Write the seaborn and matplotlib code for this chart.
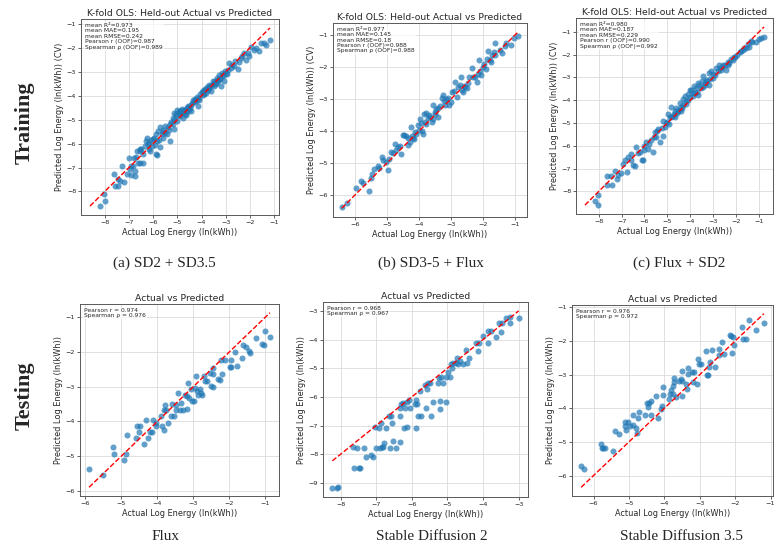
import matplotlib
matplotlib.use("Agg")
import matplotlib.pyplot as plt
import numpy as np
import seaborn as sns

# ---- training panels (K-fold OLS, out-of-fold) ----
sd2_sd35_actual = [-8.18, -8.0, -8.03, -7.62, -7.59, -7.45, -7.45, -7.22, -7.27, -7.08, -6.97, -6.84, -6.8, -7.0,
                   -6.63, -6.54, -6.42, -6.9, -6.74, -6.77, -6.66, -6.56, -6.49, -6.24, -6.29, -6.16, -6.08, -6.33,
                   -6.19, -6.11, -5.9, -5.94, -5.83, -5.71, -5.83, -5.87, -5.81, -5.71, -5.6, -5.53, -5.6, -5.42,
                   -5.32, -5.12, -5.26, -5.19, -5.12, -5.01, -4.91, -5.05, -5.12, -4.84, -4.71, -4.78, -4.64, -4.5,
                   -4.43, -4.36, -4.23, -4.16, -4.09, -3.95, -3.88, -3.82, -3.75, -3.68, -3.61, -3.54, -3.47, -3.4,
                   -3.34, -3.27, -3.13, -3.2, -3.06, -2.99, -2.86, -2.79, -2.65, -2.51, -2.38, -2.31, -2.17, -2.03,
                   -1.76, -1.83, -1.62, -1.42, -1.35, -1.17,
                   -5.05, -4.95, -4.88, -4.8, -4.75, -4.68, -4.62, -4.55, -4.48, -4.4, -4.33, -4.28, -4.2, -4.12,
                   -4.05, -3.98, -3.9, -3.85, -3.78, -3.72, -3.65, -3.58, -3.5, -3.42, -3.35, -3.3, -3.22, -3.15,
                   -3.1, -3.02, -2.95, -2.75, -2.6, -2.45, -2.25, -2.1, -1.95, -1.55, -5.4, -5.35, -5.5, -5.65,
                   -5.75, -5.95, -6.05, -6.4, -6.55, -6.7, -6.9, -7.35, -5.2, -5.0, -4.9, -4.7, -4.6, -4.45,
                   -4.85, -4.58, -4.25, -3.92, -3.7, -3.45, -3.25, -2.9, -5.3, -5.6, -6.2, -6.0]
sd2_sd35_pred = [-8.61, -8.4, -8.12, -7.25, -7.78, -7.78, -7.46, -7.61, -6.94, -7.25, -7.08, -6.94, -6.62, -6.62,
                 -6.8, -6.83, -6.83, -7.3, -7.15, -7.36, -6.31, -6.24, -6.22, -5.76, -5.9, -5.97, -5.86, -6.1,
                 -6.22, -6.31, -6.42, -6.04, -6.46, -6.14, -5.88, -5.6, -5.46, -5.32, -5.42, -5.28, -5.78, -5.6,
                 -5.88, -5.39, -5.11, -4.93, -4.72, -4.58, -4.65, -4.86, -5.0, -4.72, -4.58, -4.93, -4.79, -4.58,
                 -4.38, -4.17, -4.24, -4.44, -4.1, -3.96, -3.75, -3.89, -3.68, -3.54, -3.82, -3.4, -3.61, -3.47,
                 -3.33, -3.13, -3.19, -3.61, -3.4, -3.06, -2.64, -2.85, -2.78, -2.89, -2.43, -2.36, -2.5, -2.36,
                 -2.01, -2.08, -2.15, -1.81, -1.88, -1.67,
                 -4.75, -4.7, -4.62, -4.55, -4.68, -4.6, -4.5, -4.42, -4.52, -4.3, -4.25, -4.12, -4.05, -4.18,
                 -3.92, -3.85, -3.92, -3.7, -3.62, -3.78, -3.6, -3.55, -3.45, -3.5, -3.25, -3.4, -3.28, -3.05,
                 -3.15, -2.95, -3.1, -2.7, -2.55, -2.58, -2.2, -2.22, -1.95, -1.78, -5.3, -5.45, -5.55, -5.6,
                 -5.85, -5.75, -6.1, -6.45, -6.3, -6.55, -6.95, -7.55, -5.2, -5.05, -4.85, -4.78, -4.7, -4.62,
                 -4.66, -4.48, -4.2, -3.8, -3.66, -3.38, -3.3, -2.92, -5.18, -5.52, -6.0, -5.82]

sd35_flux_actual = [-6.41, -6.26, -5.97, -5.81, -5.76, -5.57, -5.5, -5.39, -5.29, -5.25, -5.16, -5.11, -5.02, -4.97,
                    -4.92, -4.87, -4.81, -4.76, -4.66, -4.55, -4.5, -4.45, -4.39, -4.34, -4.29, -4.24, -4.18, -4.13,
                    -4.08, -4.03, -3.97, -3.92, -3.87, -3.85, -3.79, -3.76, -3.71, -3.64, -3.55, -3.5, -3.48, -3.45,
                    -3.39, -3.29, -3.24, -3.22, -3.18, -3.08, -3.05, -2.97, -2.87, -2.82, -2.71, -2.69, -2.63, -2.59,
                    -2.5, -2.42, -2.34, -2.29, -2.19, -2.13, -2.08, -2.05, -1.98, -1.87, -1.82, -1.77, -1.71, -1.66,
                    -1.61, -1.45, -1.4, -1.26, -1.12, -1.03, -0.89,
                    -5.45, -4.7, -4.6, -4.35, -4.0, -3.9, -3.68, -3.6, -3.4, -3.35, -3.15, -3.0, -2.9, -2.78,
                    -2.55, -2.45, -2.25, -2.15, -1.95, -1.9, -1.6, -1.3, -4.2, -4.15, -3.82, -2.65, -3.55, -1.75]
sd35_flux_pred = [-6.37, -6.25, -5.78, -5.55, -5.63, -5.88, -5.46, -5.18, -5.08, -5.15, -4.81, -4.9, -4.97, -5.2,
                  -4.87, -4.66, -4.69, -4.39, -4.5, -4.71, -4.12, -4.12, -4.14, -4.44, -4.34, -3.87, -4.22, -4.03,
                  -4.08, -3.82, -3.61, -3.74, -4.08, -3.45, -3.42, -3.79, -3.6, -3.55, -3.18, -3.45, -3.4, -3.32,
                  -3.29, -2.97, -2.87, -3.05, -3.18, -2.95, -3.18, -2.76, -2.45, -2.92, -2.55, -2.31, -2.76, -2.58,
                  -2.66, -2.29, -2.03, -2.29, -2.45, -1.77, -2.12, -2.24, -1.98, -1.75, -1.48, -1.77, -1.63, -1.53,
                  -1.24, -1.45, -1.56, -1.24, -1.29, -1.08, -1.01,
                  -5.35, -4.6, -4.45, -4.2, -3.95, -4.0, -3.48, -3.7, -3.55, -3.2, -3.0, -3.1, -2.75, -2.62,
                  -2.62, -2.5, -2.3, -2.2, -1.9, -2.05, -1.62, -1.32, -4.15, -4.25, -3.72, -2.7, -3.62, -1.85]

flux_sd2_actual = [-8.04, -8.16, -8.04, -7.62, -7.62, -7.48, -7.44, -7.29, -7.15, -7.22, -7.04, -6.93, -6.86, -6.78,
                   -6.71, -6.57, -6.49, -6.42, -6.35, -6.21, -6.13, -6.06, -6.03, -5.92, -5.84, -5.7, -5.63, -5.55,
                   -5.48, -5.41, -5.34, -5.19, -5.19, -5.12, -5.05, -4.98, -4.9, -4.83, -4.76, -4.69, -4.61, -4.54,
                   -4.47, -4.4, -4.32, -4.25, -4.18, -4.11, -4.03, -3.96, -3.89, -3.82, -3.75, -3.67, -3.6, -3.48,
                   -3.43, -3.38, -3.31, -3.17, -3.09, -3.02, -2.88, -2.8, -2.73, -2.66, -2.56, -2.44, -2.37, -2.3,
                   -2.15, -2.04, -1.94, -1.79, -1.69, -1.57, -1.43, -1.29, -1.14, -1.02, -0.92, -0.78,
                   -5.25, -5.0, -4.85, -4.72, -4.6, -4.5, -4.42, -4.3, -4.2, -4.1, -4.0, -3.9, -3.8, -3.7,
                   -3.55, -3.45, -3.35, -3.25, -3.12, -3.0, -2.92, -2.7, -2.6, -2.5, -2.35, -2.22, -2.1, -1.85,
                   -1.65, -1.5, -1.35, -5.6, -5.8, -6.0, -6.3, -6.6, -5.45, -4.95, -4.65, -4.35, -3.65, -3.2]
flux_sd2_pred = [-8.6, -8.43, -8.14, -7.74, -7.32, -7.32, -7.74, -7.1, -7.28, -7.46, -7.18, -6.8, -6.63, -7.13,
                 -6.48, -6.37, -6.85, -6.87, -6.05, -6.27, -6.63, -6.63, -6.02, -5.83, -6.12, -5.76, -6.27, -5.4,
                 -5.59, -5.26, -5.83, -5.55, -4.9, -5.16, -4.98, -4.61, -4.75, -4.29, -4.68, -4.46, -4.35, -4.46,
                 -4.1, -4.29, -3.96, -3.81, -4.03, -3.74, -3.57, -3.53, -3.67, -3.38, -3.45, -3.24, -3.31, -3.16,
                 -2.95, -3.31, -3.09, -2.8, -2.73, -3.02, -2.59, -2.73, -2.44, -2.66, -2.44, -2.66, -2.3, -2.37,
                 -2.23, -2.08, -2.01, -1.84, -1.79, -1.72, -1.65, -1.43, -1.43, -1.29, -1.26, -1.22,
                 -5.2, -4.95, -4.75, -4.62, -4.55, -4.42, -4.45, -4.2, -4.15, -4.0, -3.85, -3.8, -3.68, -3.62,
                 -3.45, -3.4, -3.25, -3.15, -3.05, -2.85, -2.9, -2.6, -2.55, -2.45, -2.45, -2.2, -2.1, -1.9,
                 -1.72, -1.55, -1.4, -5.6, -5.9, -6.2, -6.3, -6.6, -5.35, -5.05, -4.72, -4.35, -3.75, -3.35]

# ---- testing panels ----
flux_actual = [-5.9, -5.51, -5.23, -5.21, -4.94, -4.88, -4.84, -4.6, -4.58, -4.5, -4.49, -4.38, -4.32, -4.26,
               -4.21, -4.14, -4.12, -4.05, -4.03, -3.89, -3.87, -3.82, -3.81, -3.8, -3.75, -3.7, -3.61, -3.58,
               -3.55, -3.49, -3.47, -3.43, -3.38, -3.33, -3.29, -3.23, -3.19, -3.17, -3.15, -3.12, -3.06, -3.03,
               -2.98, -2.96, -2.92, -2.9, -2.87, -2.82, -2.78, -2.75, -2.71, -2.67, -2.62, -2.53, -2.5, -2.45,
               -2.45, -2.44, -2.31, -2.27, -2.22, -2.19, -2.13, -1.99, -1.94, -1.94, -1.83, -1.79, -1.64, -1.62,
               -1.53, -1.44, -1.42, -1.27, -1.1, -1.0, -1.04, -0.87]
flux_pred = [-5.37, -5.54, -4.74, -4.93, -5.11, -4.93, -4.38, -4.47, -4.14, -4.3, -4.14, -4.64, -3.95, -4.48,
             -4.3, -4.3, -3.95, -4.06, -4.13, -3.86, -4.13, -4.25, -3.67, -3.53, -3.67, -4.04, -3.86, -3.5,
             -3.86, -3.52, -3.67, -3.17, -3.67, -3.46, -3.67, -3.23, -3.28, -3.63, -2.89, -3.33, -3.07, -3.4,
             -3.4, -3.04, -2.7, -3.14, -3.23, -3.06, -3.19, -3.25, -2.7, -2.84, -2.84, -2.6, -2.99, -2.63,
             -3.01, -2.46, -2.78, -2.8, -2.24, -2.63, -2.24, -2.44, -2.44, -2.22, -1.99, -2.41, -2.18, -1.8,
             -1.85, -1.97, -2.02, -1.6, -1.78, -1.41, -1.8, -1.57]

sd2_actual = [-8.23, -8.1, -8.06, -7.65, -7.63, -7.54, -7.47, -7.44, -7.33, -7.28, -7.14, -7.09, -7.02, -7.0,
              -6.92, -6.89, -6.83, -6.86, -6.81, -6.78, -6.72, -6.65, -6.6, -6.58, -6.56, -6.53, -6.45, -6.34,
              -6.32, -6.34, -6.3, -6.25, -6.23, -6.2, -6.14, -6.14, -6.08, -6.06, -5.92, -5.87, -5.87, -5.86,
              -5.83, -5.78, -5.75, -5.64, -5.59, -5.57, -5.55, -5.5, -5.45, -5.41, -5.27, -5.24, -5.22, -5.22,
              -5.17, -5.13, -5.05, -5.03, -4.98, -4.94, -4.91, -4.86, -4.84, -4.77, -4.73, -4.7, -4.66, -4.56,
              -4.47, -4.44, -4.4, -4.19, -4.14, -4.1, -4.0, -3.86, -3.86, -3.77, -3.65, -3.49, -3.56, -3.46,
              -3.35, -3.25, -3.23, -3.0]
sd2_pred = [-9.18, -9.18, -9.15, -7.74, -8.47, -7.79, -8.47, -8.49, -7.79, -8.08, -8.02, -8.08, -7.06, -7.79,
            -7.1, -7.79, -7.76, -6.92, -7.74, -7.59, -7.08, -6.68, -7.79, -6.68, -6.92, -7.53, -7.79, -6.38,
            -6.68, -7.56, -6.24, -6.21, -7.08, -6.39, -6.18, -7.06, -6.12, -6.39, -6.24, -6.12, -7.08, -6.24,
            -6.68, -5.79, -6.65, -5.59, -6.39, -5.74, -5.53, -5.53, -6.68, -6.18, -5.53, -5.35, -6.41, -6.15,
            -5.32, -5.53, -6.18, -5.32, -5.12, -5.32, -4.85, -5.0, -4.81, -4.81, -4.65, -4.85, -4.76, -4.85,
            -4.38, -4.81, -4.65, -4.12, -4.41, -4.12, -3.86, -4.12, -3.71, -3.71, -3.91, -3.74, -3.44, -3.41,
            -3.24, -3.2, -3.44, -3.24]

sd35_actual = [-6.35, -6.27, -5.78, -5.76, -5.73, -5.69, -5.46, -5.38, -5.27, -5.12, -5.12, -5.08, -5.02, -4.98,
               -4.89, -4.89, -4.8, -4.77, -4.75, -4.72, -4.56, -4.48, -4.45, -4.42, -4.39, -4.37, -4.24, -4.17,
               -4.1, -4.07, -4.05, -4.03, -3.87, -3.85, -3.82, -3.77, -3.75, -3.72, -3.72, -3.68, -3.58, -3.53,
               -3.5, -3.49, -3.49, -3.39, -3.37, -3.34, -3.34, -3.22, -3.18, -3.15, -3.08, -3.06, -3.03, -2.96,
               -2.82, -2.8, -2.77, -2.73, -2.71, -2.65, -2.56, -2.47, -2.46, -2.38, -2.31, -2.16, -2.11, -2.1,
               -2.06, -2.02, -1.8, -1.78, -1.7, -1.61, -1.42, -1.19]
sd35_pred = [-5.72, -5.82, -5.07, -5.17, -5.17, -5.17, -5.27, -4.69, -4.77, -4.42, -4.52, -4.64, -4.42, -4.52,
             -4.5, -4.2, -4.6, -4.74, -4.3, -4.12, -4.2, -3.84, -3.97, -3.84, -3.77, -4.2, -3.64, -4.3,
             -4.02, -3.92, -3.6, -3.38, -3.72, -3.57, -3.47, -3.35, -3.57, -3.21, -3.11, -3.67, -3.18, -3.13,
             -2.88, -3.18, -3.64, -3.28, -3.43, -2.81, -2.98, -2.91, -3.23, -2.91, -3.28, -2.53, -2.68, -2.68,
             -2.31, -3.0, -3.0, -2.78, -2.63, -2.28, -2.78, -2.41, -2.25, -2.03, -2.38, -1.83, -1.85, -2.35,
             -1.88, -2.11, -1.59, -1.93, -1.95, -1.38, -1.68, -1.46]

train_stats = [
    "mean R\u00b2=0.973\nmean MAE=0.195\nmean RMSE=0.242\nPearson r (OOF)=0.987\nSpearman \u03c1 (OOF)=0.989",
    "mean R\u00b2=0.977\nmean MAE=0.145\nmean RMSE=0.18\nPearson r (OOF)=0.988\nSpearman \u03c1 (OOF)=0.988",
    "mean R\u00b2=0.980\nmean MAE=0.187\nmean RMSE=0.229\nPearson r (OOF)=0.990\nSpearman \u03c1 (OOF)=0.992",
]
test_stats = [
    "Pearson r = 0.974\nSpearman \u03c1 = 0.976",
    "Pearson r = 0.968\nSpearman \u03c1 = 0.967",
    "Pearson r = 0.976\nSpearman \u03c1 = 0.972",
]
train_captions = ["(a) SD2 + SD3.5", "(b) SD3-5 + Flux", "(c) Flux + SD2"]
test_captions = ["Flux", "Stable Diffusion 2", "Stable Diffusion 3.5"]

sns.set_style("whitegrid", {"axes.edgecolor": "0.35", "grid.color": "0.86"})

W, H = 780, 550
fig = plt.figure(figsize=(7.8, 5.5), dpi=100)


def add_ax(left, top, right, bottom):
    return fig.add_axes([left / W, 1 - bottom / H, (right - left) / W, (bottom - top) / H])


def draw_panel(ax, actual, pred, title, ylabel, stats, line_both):
    actual = np.array(actual)
    pred = np.array(pred)
    sns.scatterplot(x=actual, y=pred, ax=ax, s=19, alpha=0.7, linewidth=0, color="#1f77b4")
    if line_both:
        lims = [min(actual.min(), pred.min()), max(actual.max(), pred.max())]
    else:
        lims = [actual.min(), actual.max()]
    ax.plot(lims, lims, "r--", linewidth=1.0)
    ax.set_title(title, fontsize=6.7, pad=2.5)
    ax.set_xlabel("Actual Log Energy (ln(kWh))", fontsize=5.9, labelpad=2)
    ax.set_ylabel(ylabel, fontsize=5.9, labelpad=2)
    ax.tick_params(labelsize=4.6, length=2, width=0.5, pad=1.5, left=True, bottom=True)
    for sp in ax.spines.values():
        sp.set_linewidth(0.7)
    ax.grid(True, linewidth=0.6)
    ax.text(0.02, 0.98, stats, transform=ax.transAxes, fontsize=4.3, va="top", ha="left",
            linespacing=1.1, bbox=dict(facecolor="white", alpha=0.7, edgecolor="none", pad=0.8))


train_boxes = [(81, 19, 279, 215), (333, 23, 527, 217), (576, 18, 773, 214)]
test_boxes = [(80, 304, 279, 496), (323, 302, 528, 497), (572, 305, 773, 496)]
train_data = [(sd2_sd35_actual, sd2_sd35_pred), (sd35_flux_actual, sd35_flux_pred),
              (flux_sd2_actual, flux_sd2_pred)]
test_data = [(flux_actual, flux_pred), (sd2_actual, sd2_pred), (sd35_actual, sd35_pred)]

for box, (a, p), st in zip(train_boxes, train_data, train_stats):
    ax = add_ax(*box)
    draw_panel(ax, a, p, "K-fold OLS: Held-out Actual vs Predicted",
               "Predicted Log Energy (ln(kWh)) (CV)", st, True)

for box, (a, p), st in zip(test_boxes, test_data, test_stats):
    ax = add_ax(*box)
    draw_panel(ax, a, p, "Actual vs Predicted", "Predicted Log Energy (ln(kWh))", st, False)

serif = ["Liberation Serif", "DejaVu Serif"]
for cx, cap in zip([164, 431, 679], train_captions):
    fig.text(cx / W, 1 - 263 / H, cap, ha="center", va="center", fontsize=11, family=serif)
for cx, cap in zip([166, 432, 681], test_captions):
    fig.text(cx / W, 1 - 536 / H, cap, ha="center", va="center", fontsize=11, family=serif)

fig.text(25 / W, 1 - 123 / H, "Training", rotation=90, ha="center", va="center",
         fontsize=16, fontweight="bold", family=serif)
fig.text(25 / W, 1 - 396 / H, "Testing", rotation=90, ha="center", va="center",
         fontsize=16, fontweight="bold", family=serif)

fig.savefig("out.png", dpi=100, facecolor="white")
